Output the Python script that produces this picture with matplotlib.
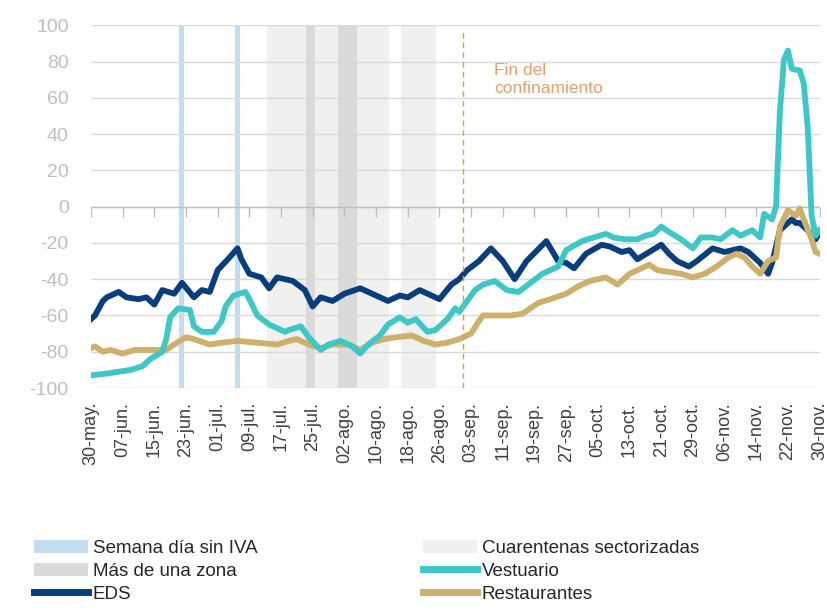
import matplotlib
matplotlib.use("Agg")
from matplotlib import pyplot as plt
from matplotlib.patches import Patch
from matplotlib.lines import Line2D
import pandas as pd

plt.rcParams['font.family'] = ['Liberation Sans', 'DejaVu Sans']
plt.rcParams['axes.unicode_minus'] = False

start = pd.Timestamp("2020-05-30")

# days since 30-may and index values
eds_days = [0, 1, 3, 4, 7, 9, 12, 14, 16, 18, 21, 23, 26, 28, 30, 32, 35, 37, 38, 40,
            43, 45, 47, 51, 54, 56, 58, 61, 64, 68, 72, 75, 78, 80, 83, 86, 88, 91, 93, 95,
            98, 101, 104, 107, 110, 115, 118, 120, 122, 125, 129, 131, 134, 136, 138, 141, 144, 146, 148, 151,
            153, 157, 160, 164, 166, 169, 171, 172, 174, 177, 178, 179, 181, 183, 184]
eds_vals = [-62, -60, -52, -50, -47, -50, -51, -50, -54, -46, -48, -42, -50, -46, -47, -35, -28, -23, -29, -37,
            -39, -45, -39, -41, -46, -55, -50, -52, -48, -45, -49, -52, -49, -50, -46, -49, -51, -43, -40, -35,
            -30, -23, -30, -40, -30, -19, -30, -31, -34, -26, -21, -22, -25, -24, -29, -25, -21, -26, -30, -33,
            -30, -23, -25, -23, -25, -31, -37, -31, -13, -7, -9, -9, -13, -18, -14]

vest_days = [0, 4, 7, 10, 13, 15, 18, 19, 20, 22, 25, 26, 28, 31, 33, 34, 36, 39, 40, 42,
             45, 49, 50, 53, 55, 58, 60, 63, 66, 68, 70, 73, 75, 78, 80, 82, 85, 87, 90, 92,
             93, 95, 97, 99, 102, 105, 108, 111, 114, 118, 120, 124, 127, 130, 132, 135, 138, 140, 142, 144,
             146, 149, 152, 154, 157, 159, 162, 164, 167, 169, 170, 172, 173, 174, 175, 176, 177, 179, 180, 181,
             182, 183, 184]
vest_vals = [-93, -92, -91, -90, -88, -84, -80, -73, -61, -56, -57, -66, -69, -69, -63, -55, -49, -47, -51, -60,
             -65, -69, -68, -66, -72, -79, -76, -74, -77, -81, -76, -71, -65, -61, -64, -62, -69, -68, -62, -56,
             -58, -52, -46, -43, -41, -46, -47, -42, -37, -33, -24, -19, -17, -15, -17, -18, -18, -16, -15, -11,
             -14, -18, -23, -17, -17, -18, -13, -16, -13, -17, -4, -7, 0, 53, 81, 86, 76, 75, 68, 44,
             -5, -16, -13]

rest_days = [0, 1, 3, 5, 8, 11, 15, 19, 21, 24, 26, 30, 33, 37, 42, 47, 50, 52, 55, 58,
             61, 65, 68, 71, 74, 77, 81, 84, 87, 90, 93, 96, 98, 99, 103, 106, 109, 113, 116, 120,
             123, 126, 130, 133, 136, 138, 141, 143, 146, 149, 152, 155, 158, 161, 163, 165, 167, 169, 171, 173,
             174, 176, 178, 179, 180, 182, 183, 184]
rest_vals = [-78, -77, -80, -79, -81, -79, -79, -79, -76, -72, -73, -76, -75, -74, -75, -76, -74, -73, -76, -78,
             -76, -76, -79, -75, -73, -72, -71, -74, -76, -75, -73, -70, -63, -60, -60, -60, -59, -53, -51, -48,
             -44, -41, -39, -43, -37, -35, -32, -35, -36, -37, -39, -37, -33, -28, -26, -28, -33, -37, -30, -28,
             -11, -2, -5, -1, -7, -18, -25, -26]

# shaded periods (days since 30-may)
sin_iva = [(22.3, 23.6), (36.5, 37.7)]
cuarentenas = [(44.5, 75.2), (78.2, 87.1)]
mas_zona = [(54.4, 56.7), (62.3, 67.1)]
fin_confinamiento = 94

tick_labels = ["30-may.", "07-jun.", "15-jun.", "23-jun.", "01-jul.", "09-jul.", "17-jul.", "25-jul.",
               "02-ago.", "10-ago.", "18-ago.", "26-ago.", "03-sep.", "11-sep.", "19-sep.", "27-sep.",
               "05-oct.", "13-oct.", "21-oct.", "29-oct.", "06-nov.", "14-nov.", "22-nov.", "30-nov."]

c_eds = "#0a3d7c"
c_vest = "#3fc7c6"
c_rest = "#cdb06b"
c_iva = "#c3dcf0"
c_cuar = "#f0f0f0"
c_zona = "#dadada"
c_orange = "#e8945a"


def day(d):
    return start + pd.to_timedelta(d, unit="D")


fig = plt.figure(figsize=(8.27, 6.15), dpi=100)
ax = fig.add_axes([0.110, 0.369, 0.881, 0.590])

for a, b in cuarentenas:
    ax.axvspan(day(a), day(b), color=c_cuar, lw=0, zorder=0)
for a, b in mas_zona:
    ax.axvspan(day(a), day(b), color=c_zona, lw=0, zorder=0)
for a, b in sin_iva:
    ax.axvspan(day(a), day(b), color=c_iva, lw=0, zorder=0)

ax.plot(day(rest_days), rest_vals, color=c_rest, lw=4.2, zorder=3)
ax.plot(day(vest_days), vest_vals, color=c_vest, lw=4.2, zorder=4)
ax.plot(day(eds_days), eds_vals, color=c_eds, lw=4.2, zorder=2)

ax.vlines(day(fin_confinamiento), -100, 97, colors=c_orange, linestyles=(0, (4, 3)), lw=1, zorder=5)
ax.text(day(101.8), 79, "Fin del\nconfinamiento", color="#eb9f6a", fontsize=12.5,
        va="top", ha="left", linespacing=1.2)

ticks = pd.date_range(start, periods=len(tick_labels), freq="8D")
ax.set_xlim(day(0), day(184))
ax.set_ylim(-100, 100)
ax.set_yticks(range(-100, 101, 20))
ax.set_xticks(ticks)
ax.set_xticklabels(tick_labels, rotation=90)

# zero line with small ticks
ax.axhline(0, color="#bfbfbf", lw=1, zorder=1)
ax.plot(ticks, [0] * len(ticks), ls="", marker=3, ms=7, mew=1, color="#bfbfbf", zorder=1)

ax.grid(axis="y", color="#d9d9d9", lw=1)
ax.set_axisbelow(True)
for s in ax.spines.values():
    s.set_visible(False)
ax.tick_params(axis="y", length=0, pad=16, labelsize=14, labelcolor="#bfbfbf")
ax.tick_params(axis="x", length=0, pad=10, labelsize=13, labelcolor="#404040")

handles = [
    Patch(color=c_iva, lw=0),
    Patch(color=c_zona, lw=0),
    Line2D([], [], color=c_eds, lw=5),
    Patch(color=c_cuar, lw=0),
    Line2D([], [], color=c_vest, lw=5),
    Line2D([], [], color=c_rest, lw=5),
]
labels = ["Semana día sin IVA", "Más de una zona", "EDS",
          "Cuarentenas sectorizadas", "Vestuario", "Restaurantes"]
fig.legend(handles, labels, ncol=2, loc="upper left", bbox_to_anchor=(0.041, 0.122),
           frameon=False, fontsize=13.5, handlelength=2.9, handletextpad=0.25,
           columnspacing=8.8, labelspacing=0.3, borderpad=0, borderaxespad=0,
           labelcolor="#262626")

plt.savefig("out.png", dpi=100)
